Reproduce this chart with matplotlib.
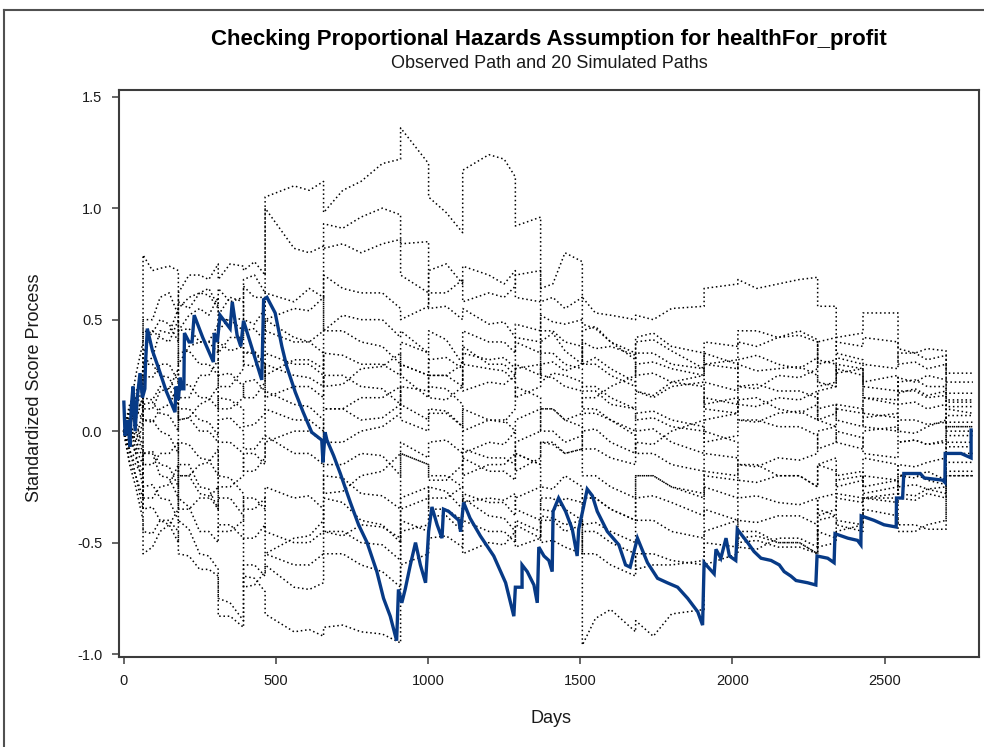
import matplotlib
matplotlib.use("Agg")
import matplotlib.pyplot as plt
from matplotlib import font_manager
from matplotlib.lines import Line2D

# fonts: SAS output looks like Arial / Arial Narrow
_names = {f.name for f in font_manager.fontManager.ttflist}
NARROW = "Liberation Sans Narrow" if "Liberation Sans Narrow" in _names else "Liberation Sans"
REGULAR = "Liberation Sans"
TICK_SIZE = 11 if NARROW == "Liberation Sans Narrow" else 10.5

# observed standardized score process (days, value)
obs_days = [1, 5, 14, 21, 25, 31, 38, 45, 54, 62,
            70, 72, 78, 95, 113, 140, 169, 172, 180, 186,
            190, 198, 200, 215, 225, 232, 260, 295, 298, 308,
            317, 350, 357, 373, 385, 394, 454, 460, 471, 498,
            520, 536, 564, 590, 618, 651, 655, 662, 668, 690,
            712, 745, 772, 800, 832, 854, 876, 897, 903, 914,
            925, 942, 959, 975, 992, 1002, 1013, 1030, 1046, 1051,
            1068, 1101, 1107, 1117, 1138, 1172, 1216, 1255, 1282, 1287,
            1309, 1309, 1326, 1348, 1359, 1364, 1381, 1397, 1408, 1411,
            1429, 1452, 1474, 1490, 1495, 1511, 1523, 1540, 1556, 1589,
            1627, 1649, 1664, 1688, 1721, 1754, 1786, 1820, 1853, 1886,
            1902, 1907, 1940, 1946, 1962, 1979, 1990, 2011, 2016, 2050,
            2071, 2094, 2127, 2154, 2170, 2192, 2209, 2247, 2274, 2278,
            2313, 2334, 2337, 2379, 2411, 2422, 2423, 2465, 2498, 2538,
            2539, 2559, 2563, 2617, 2630, 2691, 2698, 2699, 2751, 2784,
            2784]
obs_score = [0.13, -0.02, 0.05, -0.07, 0.10, 0.20, 0.00, 0.15, 0.26, 0.15,
             0.19, 0.30, 0.46, 0.36, 0.29, 0.18, 0.085, 0.20, 0.14, 0.24,
             0.19, 0.19, 0.44, 0.40, 0.40, 0.52, 0.42, 0.31, 0.44, 0.40,
             0.52, 0.46, 0.58, 0.43, 0.38, 0.495, 0.23, 0.59, 0.60, 0.53,
             0.38, 0.29, 0.175, 0.085, -0.005, -0.04, -0.14, -0.005, -0.04, -0.11,
             -0.19, -0.32, -0.42, -0.50, -0.63, -0.75, -0.83, -0.94, -0.71, -0.77,
             -0.71, -0.60, -0.50, -0.60, -0.68, -0.45, -0.34, -0.42, -0.48, -0.35,
             -0.36, -0.40, -0.45, -0.32, -0.39, -0.47, -0.56, -0.68, -0.83, -0.70,
             -0.70, -0.60, -0.63, -0.69, -0.77, -0.52, -0.56, -0.58, -0.63, -0.36,
             -0.30, -0.36, -0.44, -0.56, -0.44, -0.34, -0.26, -0.29, -0.36, -0.45,
             -0.51, -0.60, -0.61, -0.48, -0.59, -0.66, -0.68, -0.70, -0.75, -0.81,
             -0.87, -0.59, -0.64, -0.53, -0.57, -0.48, -0.56, -0.58, -0.44, -0.50,
             -0.54, -0.57, -0.58, -0.60, -0.63, -0.65, -0.67, -0.68, -0.69, -0.56,
             -0.57, -0.59, -0.46, -0.48, -0.49, -0.51, -0.38, -0.40, -0.42, -0.43,
             -0.30, -0.30, -0.19, -0.19, -0.21, -0.22, -0.23, -0.10, -0.10, -0.12,
             0.005]

# 20 simulated paths, read at shared days (repeated day = jump)
sim_days = [0, 40, 64, 64, 120, 180, 180, 250, 311, 311,
            394, 394, 465, 465, 560, 657, 657, 780, 910, 910,
            1002, 1002, 1114, 1114, 1200, 1287, 1287, 1370, 1370, 1450,
            1507, 1507, 1600, 1682, 1682, 1800, 1907, 1907, 2018, 2018,
            2150, 2280, 2280, 2341, 2341, 2429, 2429, 2544, 2544, 2640,
            2702, 2702, 2790]
# extra readings between the jumps
mid_days = [20, 95, 150, 215, 280, 350, 430, 610, 720,
            850, 1060, 1250, 1410, 1550, 1740, 2080, 2220, 2600]

sim01 = [0.00, 0.12, 0.28, 0.50, 0.60, 0.52, 0.58, 0.62, 0.56, 0.64,
         0.60, 0.68, 0.62, 1.05, 1.10, 1.12, 0.98, 1.12, 1.22, 1.36,
         1.20, 1.05, 0.89, 1.17, 1.24, 1.14, 0.92, 0.96, 0.64, 0.80,
         0.76, 0.60, 0.52, 0.50, 0.52, 0.55, 0.56, 0.64, 0.66, 0.68,
         0.66, 0.69, 0.56, 0.56, 0.42, 0.44, 0.53, 0.53, 0.37, 0.37,
         0.36, 0.26, 0.26]
sim02 = [0.00, 0.05, 0.15, 0.35, 0.42, 0.50, 0.45, 0.55, 0.60, 0.52,
         0.58, 0.50, 0.55, 0.62, 0.58, 0.60, 0.93, 0.96, 0.97, 0.70,
         0.62, 0.72, 0.66, 0.74, 0.70, 0.72, 0.60, 0.58, 0.40, 0.36,
         0.30, 0.45, 0.40, 0.35, 0.42, 0.38, 0.35, 0.30, 0.32, 0.40,
         0.42, 0.41, 0.32, 0.30, 0.26, 0.28, 0.22, 0.25, 0.17, 0.16,
         0.18, 0.11, 0.11]
sim03 = [0.00, -0.05, 0.10, 0.30, 0.45, 0.55, 0.62, 0.70, 0.75, 0.68,
         0.74, 0.72, 0.70, 1.00, 0.82, 0.83, 0.82, 0.80, 0.86, 0.84,
         0.85, 0.55, 0.50, 0.55, 0.48, 0.42, 0.48, 0.45, 0.52, 0.48,
         0.50, 0.30, 0.28, 0.22, 0.18, 0.20, 0.22, 0.10, 0.08, 0.14,
         0.10, 0.12, 0.18, 0.20, 0.28, 0.25, 0.08, 0.06, 0.12, 0.10,
         0.12, 0.02, 0.02]
sim04 = [0.00, 0.25, 0.40, 0.79, 0.73, 0.72, 0.30, 0.40, 0.48, 0.35,
         0.42, 0.45, 0.40, 0.50, 0.55, 0.60, 0.45, 0.50, 0.42, 0.45,
         0.35, 0.45, 0.30, 0.38, 0.30, 0.25, 0.28, 0.30, 0.22, 0.25,
         0.22, 0.18, 0.12, 0.10, 0.18, 0.22, 0.25, 0.30, 0.28, 0.32,
         0.30, 0.33, 0.22, 0.20, 0.30, 0.28, 0.20, 0.18, 0.24, 0.25,
         0.23, 0.17, 0.17]
sim05 = [0.00, 0.18, 0.22, 0.45, 0.50, 0.40, 0.55, 0.62, 0.55, 0.45,
         0.50, 0.65, 0.60, 0.45, 0.40, 0.45, 0.70, 0.62, 0.55, 0.50,
         0.56, 0.62, 0.68, 0.58, 0.62, 0.65, 0.70, 0.72, 0.58, 0.55,
         0.60, 0.48, 0.40, 0.32, 0.40, 0.36, 0.28, 0.22, 0.18, 0.30,
         0.28, 0.25, 0.20, 0.22, 0.33, 0.30, 0.15, 0.14, 0.22, 0.20,
         0.20, 0.13, 0.13]
sim06 = [0.00, 0.10, 0.05, 0.25, 0.30, 0.22, 0.35, 0.30, 0.25, 0.40,
         0.38, 0.30, 0.34, 0.50, 0.42, 0.35, 0.20, 0.28, 0.35, 0.30,
         0.25, 0.32, 0.28, 0.18, 0.22, 0.25, 0.15, 0.20, 0.30, 0.27,
         0.30, 0.40, 0.38, 0.34, 0.25, 0.22, 0.20, 0.12, 0.15, 0.05,
         0.08, 0.05, 0.10, 0.12, 0.05, 0.02, 0.06, 0.08, 0.00, 0.02,
         0.05, 0.07, 0.07]
sim07 = [0.00, -0.10, 0.05, 0.15, 0.20, 0.12, 0.05, 0.12, 0.20, 0.10,
         0.15, 0.22, 0.18, 0.30, 0.25, 0.20, 0.35, 0.30, 0.25, 0.40,
         0.35, 0.25, 0.30, 0.45, 0.40, 0.35, 0.42, 0.40, 0.25, 0.20,
         0.18, 0.10, 0.05, 0.00, 0.08, 0.05, 0.02, -0.05, -0.02, 0.05,
         0.02, -0.02, -0.08, -0.05, 0.00, -0.03, -0.10, -0.12, -0.05, -0.06,
         -0.04, -0.02, -0.02]
sim08 = [0.00, -0.15, -0.20, 0.05, 0.00, -0.10, 0.10, 0.05, -0.02, 0.15,
         0.10, 0.02, 0.08, 0.18, 0.12, 0.05, -0.05, 0.00, 0.08, 0.12,
         0.05, 0.10, 0.02, 0.10, 0.05, 0.00, 0.05, 0.10, 0.00, -0.05,
         -0.02, 0.08, 0.05, -0.02, -0.10, -0.15, -0.18, -0.10, -0.12, -0.22,
         -0.20, -0.25, -0.15, -0.18, -0.25, -0.22, -0.12, -0.15, -0.20, -0.18,
         -0.22, -0.10, -0.10]
sim09 = [0.00, -0.20, -0.30, -0.10, -0.15, -0.25, -0.05, -0.12, -0.20, -0.05,
         -0.10, -0.18, -0.12, -0.02, -0.10, -0.15, -0.28, -0.20, -0.10, -0.05,
         -0.12, -0.05, -0.10, -0.20, -0.15, -0.10, -0.18, -0.12, -0.05, -0.10,
         -0.08, -0.20, -0.25, -0.30, -0.20, -0.25, -0.28, -0.20, -0.22, -0.30,
         -0.32, -0.30, -0.38, -0.35, -0.28, -0.30, -0.30, -0.30, -0.42, -0.44,
         -0.44, 0.10, 0.08]
sim10 = [0.00, -0.10, -0.25, -0.45, -0.40, -0.50, -0.40, -0.55, -0.62, -0.75,
         -0.85, -0.65, -0.72, -0.82, -0.90, -0.92, -0.88, -0.90, -0.95, -0.60,
         -0.55, -0.48, -0.52, -0.40, -0.45, -0.50, -0.42, -0.48, -0.38, -0.42,
         -0.40, -0.55, -0.60, -0.65, -0.55, -0.58, -0.60, -0.50, -0.52, -0.45,
         -0.50, -0.55, -0.45, -0.48, -0.40, -0.42, -0.35, -0.38, -0.45, -0.42,
         -0.40, -0.18, -0.18]
sim11 = [0.00, -0.20, -0.35, -0.25, -0.30, -0.40, -0.30, -0.45, -0.50, -0.42,
         -0.48, -0.70, -0.63, -0.60, -0.70, -0.68, -0.55, -0.60, -0.70, -0.35,
         -0.30, -0.25, -0.35, -0.30, -0.38, -0.45, -0.40, -0.45, -0.30, -0.35,
         -0.40, -0.96, -0.80, -0.90, -0.85, -0.82, -0.80, -0.60, -0.55, -0.50,
         -0.52, -0.55, -0.40, -0.38, -0.30, -0.32, -0.20, -0.22, -0.30, -0.28,
         -0.30, -0.20, -0.20]
sim12 = [0.00, -0.25, -0.40, -0.55, -0.45, -0.35, -0.20, -0.28, -0.35, -0.20,
         -0.28, -0.35, -0.30, -0.45, -0.50, -0.45, -0.30, -0.40, -0.50, -0.45,
         -0.42, -0.30, -0.25, -0.32, -0.30, -0.28, -0.35, -0.40, -0.50, -0.52,
         -0.55, -0.45, -0.50, -0.55, -0.62, -0.60, -0.58, -0.45, -0.40, -0.52,
         -0.48, -0.52, -0.30, -0.28, -0.22, -0.20, -0.28, -0.25, -0.15, -0.14,
         -0.12, -0.05, -0.05]
sim13 = [0.00, 0.08, 0.15, 0.05, 0.10, 0.20, 0.45, 0.40, 0.35, 0.50,
         0.45, 0.35, 0.30, 0.25, 0.32, 0.28, 0.45, 0.40, 0.30, 0.25,
         0.15, 0.20, 0.12, 0.00, 0.05, 0.10, 0.20, 0.15, 0.10, 0.05,
         0.08, 0.15, 0.20, 0.25, 0.35, 0.30, 0.28, 0.40, 0.38, 0.45,
         0.42, 0.40, 0.30, 0.32, 0.40, 0.38, 0.42, 0.40, 0.30, 0.28,
         0.30, 0.22, 0.22]
sim14 = [0.00, 0.05, -0.08, -0.15, -0.10, -0.05, -0.20, -0.15, -0.08, -0.25,
         -0.20, -0.10, -0.15, -0.05, 0.00, -0.05, 0.10, 0.05, 0.12, 0.20,
         0.18, 0.25, 0.20, 0.30, 0.28, 0.22, 0.30, 0.25, 0.35, 0.30,
         0.28, 0.20, 0.15, 0.10, 0.05, 0.02, 0.00, 0.05, 0.08, 0.12,
         0.15, 0.18, 0.05, 0.08, 0.12, 0.10, 0.02, 0.00, 0.05, 0.03,
         0.04, 0.00, 0.00]
sim15 = [0.00, -0.05, -0.12, -0.30, -0.25, -0.15, -0.35, -0.30, -0.25, -0.45,
         -0.40, -0.30, -0.35, -0.25, -0.30, -0.35, -0.45, -0.42, -0.48, -0.30,
         -0.25, -0.35, -0.40, -0.28, -0.32, -0.38, -0.30, -0.25, -0.35, -0.30,
         -0.32, -0.42, -0.45, -0.50, -0.40, -0.45, -0.48, -0.35, -0.40, -0.48,
         -0.50, -0.55, -0.35, -0.38, -0.42, -0.45, -0.30, -0.28, -0.20, -0.22,
         -0.24, -0.14, -0.14]
sim16 = [0.00, 0.10, 0.20, 0.10, 0.18, 0.28, 0.15, 0.25, 0.32, 0.20,
         0.28, 0.35, 0.30, 0.15, 0.20, 0.15, 0.25, 0.20, 0.12, 0.30,
         0.25, 0.15, 0.20, 0.35, 0.32, 0.28, 0.40, 0.35, 0.45, 0.40,
         0.38, 0.30, 0.25, 0.20, 0.30, 0.28, 0.25, 0.35, 0.30, 0.20,
         0.25, 0.28, 0.40, 0.42, 0.35, 0.32, 0.30, 0.28, 0.35, 0.32,
         0.34, 0.14, 0.14]
sim17 = [0.00, -0.12, -0.18, -0.35, -0.40, -0.45, -0.55, -0.62, -0.65, -0.83,
         -0.88, -0.60, -0.65, -0.55, -0.48, -0.40, -0.20, -0.28, -0.35, -0.10,
         -0.15, -0.20, -0.25, -0.12, -0.18, -0.22, -0.10, -0.15, -0.25, -0.20,
         -0.25, -0.30, -0.35, -0.40, -0.30, -0.32, -0.38, -0.25, -0.30, -0.40,
         -0.38, -0.42, -0.52, -0.50, -0.45, -0.42, -0.30, -0.32, -0.25, -0.26,
         -0.28, -0.07, -0.07]
sim18 = [0.00, 0.15, 0.10, 0.30, 0.25, 0.15, 0.05, 0.00, -0.05, 0.05,
         0.00, -0.08, -0.02, 0.10, 0.05, 0.00, -0.15, -0.10, -0.20, -0.10,
         -0.15, -0.22, -0.15, -0.08, -0.12, -0.15, -0.05, 0.00, 0.10, 0.05,
         0.02, -0.08, -0.12, -0.15, -0.05, 0.00, 0.05, 0.15, 0.12, 0.20,
         0.18, 0.15, 0.05, 0.02, 0.10, 0.08, 0.15, 0.12, 0.18, 0.15,
         0.16, 0.04, 0.04]
sim19 = [0.00, -0.08, -0.15, -0.10, -0.20, -0.30, -0.15, -0.25, -0.35, -0.30,
         -0.38, -0.48, -0.42, -0.55, -0.60, -0.55, -0.45, -0.50, -0.58, -0.40,
         -0.45, -0.38, -0.45, -0.55, -0.50, -0.45, -0.52, -0.48, -0.40, -0.45,
         -0.42, -0.30, -0.35, -0.40, -0.20, -0.25, -0.30, -0.18, -0.20, -0.15,
         -0.20, -0.25, -0.15, -0.12, -0.20, -0.18, -0.25, -0.22, -0.28, -0.26,
         -0.25, -0.20, -0.20]
sim20 = [0.00, 0.00, -0.10, 0.12, 0.08, 0.00, 0.20, 0.15, 0.10, 0.25,
         0.20, 0.15, 0.22, 0.35, 0.30, 0.25, 0.10, 0.15, 0.20, 0.05,
         0.00, 0.08, 0.02, -0.10, -0.05, 0.00, -0.10, -0.15, -0.05, -0.10,
         -0.08, 0.00, -0.05, -0.10, 0.00, -0.05, -0.10, 0.00, -0.05, -0.15,
         -0.12, -0.10, 0.00, 0.02, -0.05, -0.08, 0.00, 0.02, -0.05, -0.06,
         -0.05, 0.02, 0.02]

mid01 = [0.10, 0.50, 0.62, 0.55, 0.64, 0.58, 0.70, 1.08, 1.08, 1.20, 0.98, 1.22, 0.66, 0.53, 0.50, 0.64, 0.68, 0.35]
mid02 = [-0.03, 0.45, 0.40, 0.52, 0.52, 0.60, 0.48, 0.64, 0.91, 1.00, 0.75, 0.66, 0.44, 0.47, 0.44, 0.38, 0.45, 0.19]
mid03 = [0.04, 0.33, 0.44, 0.70, 0.68, 0.75, 0.76, 0.80, 0.84, 0.84, 0.56, 0.49, 0.49, 0.33, 0.15, 0.15, 0.08, 0.13]
mid04 = [0.08, 0.72, 0.74, 0.38, 0.40, 0.42, 0.46, 0.54, 0.52, 0.50, 0.41, 0.30, 0.26, 0.18, 0.16, 0.34, 0.28, 0.22]
mid05 = [0.12, 0.44, 0.48, 0.60, 0.61, 0.51, 0.60, 0.40, 0.64, 0.62, 0.62, 0.60, 0.60, 0.46, 0.41, 0.27, 0.29, 0.23]
mid06 = [0.02, 0.24, 0.30, 0.36, 0.30, 0.36, 0.29, 0.40, 0.21, 0.29, 0.33, 0.21, 0.31, 0.37, 0.26, 0.04, 0.09, -0.01]
mid07 = [-0.03, 0.14, 0.19, 0.06, 0.14, 0.10, 0.23, 0.24, 0.34, 0.30, 0.25, 0.40, 0.24, 0.10, 0.09, 0.05, 0.02, -0.04]
mid08 = [-0.10, 0.05, -0.02, 0.10, 0.04, 0.14, 0.03, 0.11, -0.05, 0.02, 0.09, 0.05, 0.00, 0.08, -0.10, -0.23, -0.20, -0.21]
mid09 = [-0.08, -0.09, -0.16, -0.06, -0.13, -0.05, -0.18, -0.10, -0.27, -0.18, -0.04, -0.15, -0.06, -0.20, -0.20, -0.29, -0.33, -0.42]
mid10 = [-0.02, -0.46, -0.42, -0.44, -0.56, -0.77, -0.66, -0.89, -0.87, -0.91, -0.47, -0.45, -0.39, -0.55, -0.55, -0.45, -0.50, -0.45]
mid11 = [-0.14, -0.24, -0.31, -0.34, -0.45, -0.42, -0.69, -0.71, -0.55, -0.63, -0.27, -0.39, -0.30, -0.84, -0.92, -0.49, -0.52, -0.31]
mid12 = [-0.15, -0.52, -0.42, -0.20, -0.29, -0.21, -0.35, -0.50, -0.32, -0.42, -0.30, -0.31, -0.49, -0.45, -0.60, -0.53, -0.48, -0.16]
mid13 = [0.06, 0.04, 0.12, 0.46, 0.40, 0.50, 0.35, 0.32, 0.45, 0.38, 0.19, 0.04, 0.10, 0.15, 0.35, 0.45, 0.43, 0.31]
mid14 = [0.06, -0.15, -0.10, -0.20, -0.14, -0.25, -0.10, 0.00, 0.10, 0.06, 0.25, 0.27, 0.35, 0.20, 0.06, 0.11, 0.14, 0.05]
mid15 = [0.03, -0.30, -0.24, -0.35, -0.30, -0.45, -0.30, -0.29, -0.47, -0.43, -0.35, -0.32, -0.36, -0.41, -0.40, -0.47, -0.50, -0.19]
mid16 = [0.03, 0.10, 0.19, 0.15, 0.25, 0.20, 0.36, 0.20, 0.25, 0.19, 0.14, 0.33, 0.45, 0.30, 0.31, 0.19, 0.24, 0.35]
mid17 = [-0.09, -0.34, -0.40, -0.56, -0.62, -0.83, -0.60, -0.47, -0.21, -0.29, -0.20, -0.18, -0.26, -0.30, -0.29, -0.41, -0.38, -0.24]
mid18 = [0.09, 0.30, 0.24, 0.06, 0.00, 0.06, -0.08, 0.05, -0.15, -0.11, -0.22, -0.12, 0.10, -0.08, -0.06, 0.21, 0.18, 0.18]
mid19 = [0.02, -0.10, -0.21, -0.15, -0.26, -0.30, -0.48, -0.60, -0.45, -0.51, -0.38, -0.51, -0.40, -0.30, -0.20, -0.15, -0.20, -0.29]
mid20 = [-0.06, 0.13, 0.07, 0.21, 0.15, 0.26, 0.15, 0.30, 0.10, 0.15, 0.08, -0.06, -0.05, 0.01, 0.01, -0.16, -0.13, -0.04]

sim_paths = [sim01, sim02, sim03, sim04, sim05, sim06, sim07, sim08, sim09, sim10,
             sim11, sim12, sim13, sim14, sim15, sim16, sim17, sim18, sim19, sim20]
mid_paths = [mid01, mid02, mid03, mid04, mid05, mid06, mid07, mid08, mid09, mid10,
             mid11, mid12, mid13, mid14, mid15, mid16, mid17, mid18, mid19, mid20]

x_ticks = [0, 500, 1000, 1500, 2000, 2500]
y_ticks = [-1.0, -0.5, 0.0, 0.5, 1.0, 1.5]

title = "Checking Proportional Hazards Assumption for healthFor_profit"
subtitle = "Observed Path and 20 Simulated Paths"

W, H = 984, 747
fig = plt.figure(figsize=(W / 100, H / 100), dpi=100, facecolor="white")
ax = fig.add_axes([119 / W, 1 - 657 / H, (979 - 119) / W, (657 - 90) / H])

for path, mid in zip(sim_paths, mid_paths):
    pts = sorted(list(zip(sim_days, path)) + list(zip(mid_days, mid)),
                 key=lambda p: p[0])
    xs = [p[0] for p in pts]
    ys = [p[1] for p in pts]
    ax.plot(xs, ys, color="black", lw=1.1, ls=(0, (1, 1.8)), zorder=2)

ax.plot(obs_days, obs_score, color="#073a86", lw=2.4, zorder=3,
        solid_joinstyle="miter")

ax.set_xlim(-15, 2810)
ax.set_ylim(-1.013, 1.53)
ax.set_xticks(x_ticks)
ax.set_xticklabels([str(v) for v in x_ticks])
ax.set_yticks(y_ticks)
ax.set_yticklabels([f"{v:.1f}" for v in y_ticks])

for s in ax.spines.values():
    s.set_color("#3c3c3c")
    s.set_linewidth(1.5)
ax.tick_params(direction="out", length=5, width=1.1, color="#3c3c3c",
               labelsize=TICK_SIZE, pad=7, labelcolor="#1a1a1a")
for lab in ax.get_xticklabels() + ax.get_yticklabels():
    lab.set_fontfamily(NARROW)

ax.set_xlabel("Days", fontfamily=NARROW, fontsize=13, color="#1a1a1a")
ax.set_ylabel("Standardized Score Process", fontfamily=NARROW, fontsize=13,
              color="#1a1a1a")
ax.xaxis.set_label_coords(0.502, -0.093)
ax.yaxis.set_label_coords(-0.088, 0.474)

cx = (119 + 979) / 2 / W
fig.text(cx, 1 - 40 / H, title, ha="center", va="center", fontsize=16,
         fontweight="bold", fontfamily=REGULAR, color="black")
fig.text(cx, 1 - 63 / H, subtitle, ha="center", va="center", fontsize=13,
         fontfamily=REGULAR, color="#1a1a1a")

# outer frame of the SAS graph area
fig.add_artist(Line2D([4 / W, 1], [1 - 10 / H, 1 - 10 / H], color="#505050", lw=1.5))
fig.add_artist(Line2D([4 / W, 4 / W], [0, 1 - 10 / H], color="#505050", lw=1.5))

fig.savefig("out.png", dpi=100, facecolor="white")
